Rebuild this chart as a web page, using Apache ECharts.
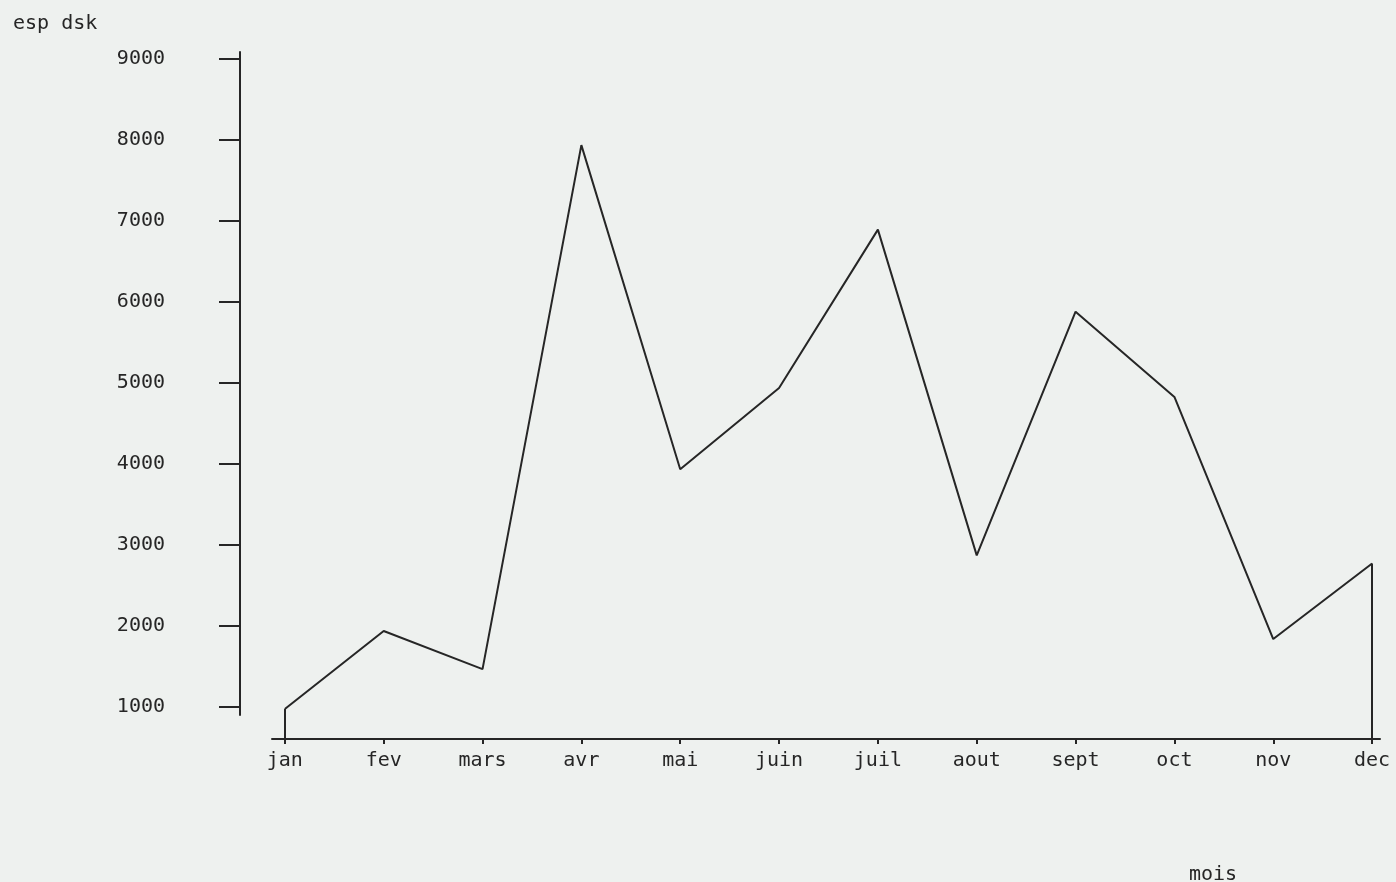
<!DOCTYPE html>
<html>
<head>
<meta charset="utf-8">
<script src="https://cdn.jsdelivr.net/npm/echarts@6/dist/echarts.min.js"></script>
<style>
  html, body { margin: 0; padding: 0; background: #eef1ef; }
  #chart { width: 1396px; height: 882px; }
</style>
</head>
<body>
<div id="chart"></div>
<script>
// ---- data ----
const months = ['jan', 'fev', 'mars', 'avr', 'mai', 'juin', 'juil', 'aout', 'sept', 'oct', 'nov', 'dec'];
const values = [1000, 1960, 1490, 7940, 3950, 4950, 6900, 2890, 5890, 4840, 1860, 2790];
const yTicks = [1000, 2000, 3000, 4000, 5000, 6000, 7000, 8000, 9000];
const yTitle = 'esp dsk';
const xTitle = 'mois';

// ---- scale set-up ----
const yMin = 630, yMax = 9086;
const xIdx = months.map((m, i) => i);
const seriesData = values.map((v, i) => [i, v]);

const font = 'DejaVu Sans Mono';
const ink = '#262626';

const chart = echarts.init(document.getElementById('chart'));
chart.setOption({
  backgroundColor: '#eef1ef',
  animation: false,
  title: [
    { text: yTitle, left: 8, top: 9, textStyle: { fontFamily: font, fontSize: 20, fontWeight: 'normal', color: ink } },
    { text: xTitle, left: 1184, top: 860, textStyle: { fontFamily: font, fontSize: 20, fontWeight: 'normal', color: ink } }
  ],
  grid: [
    { left: 272, right: 16, top: 52, bottom: 143 },
    { left: 240, width: 1, top: 52, bottom: 167 }
  ],
  xAxis: [
    {
      gridIndex: 0, type: 'value', min: -0.13, max: 11.08,
      axisLine: { show: true, lineStyle: { color: ink, width: 2 } },
      axisTick: { show: true, customValues: xIdx, length: 5, lineStyle: { color: ink, width: 2 } },
      axisLabel: {
        customValues: xIdx, margin: 12,
        formatter: v => months[Math.round(v)],
        fontFamily: font, fontSize: 20, color: ink
      },
      splitLine: { show: false }
    },
    { gridIndex: 1, type: 'value', show: false }
  ],
  yAxis: [
    { gridIndex: 0, type: 'value', min: yMin, max: yMax, show: false, splitLine: { show: false } },
    {
      gridIndex: 1, type: 'value', min: 901, max: yMax,
      axisLine: { show: true, lineStyle: { color: ink, width: 2 } },
      axisTick: { show: true, customValues: yTicks, length: 21, lineStyle: { color: ink, width: 2 } },
      axisLabel: { customValues: yTicks, margin: 75, formatter: v => String(v), fontFamily: font, fontSize: 20, color: ink },
      splitLine: { show: false }
    }
  ],
  series: [{
    type: 'line',
    xAxisIndex: 0, yAxisIndex: 0,
    data: seriesData,
    symbol: 'none',
    lineStyle: { color: ink, width: 2 },
    markLine: {
      silent: true,
      symbol: 'none',
      label: { show: false },
      lineStyle: { color: ink, width: 2, type: 'solid' },
      data: [
        [{ coord: [0, values[0]] }, { coord: [0, yMin] }],
        [{ coord: [months.length - 1, values[values.length - 1]] }, { coord: [months.length - 1, yMin] }]
      ]
    }
  }]
});
</script>
</body>
</html>
